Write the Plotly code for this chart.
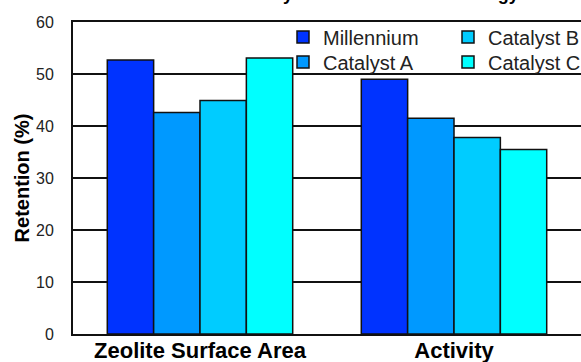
import plotly.graph_objects as go

categories = ["Zeolite Surface Area", "Activity"]
series_names = ["Millennium", "Catalyst A", "Catalyst B", "Catalyst C"]
millennium = [52.7, 49.0]
catalyst_a = [42.6, 41.5]
catalyst_b = [44.9, 37.8]
catalyst_c = [53.1, 35.5]
y_ticks = [0, 10, 20, 30, 40, 50, 60]
title_text = "Steam Stability of Millennium Technology"

colors = ["#0033FF", "#0099FF", "#00CCFF", "#00FFFF"]
values = [millennium, catalyst_a, catalyst_b, catalyst_c]
legend_ids = ["legend", "legend2", "legend3", "legend4"]

fig = go.Figure()
for name, vals, col, lg in zip(series_names, values, colors, legend_ids):
    fig.add_trace(go.Bar(
        x=categories, y=vals, name=name, legend=lg,
        marker=dict(color=col, line=dict(color="#111111", width=1.5)),
    ))

legend_font = dict(family="Liberation Sans, Arial, sans-serif", size=20, color="#222222")
W = 508.0
H = 312.0
L = 73.0
T = 22.0


def leg(text_x, center_y):
    # text_x: pixel x where text should start; center_y: pixel y of row center
    return dict(x=(text_x - 41 - L) / W, xanchor="left",
                y=1 + (T - center_y + 19.5) / H, yanchor="top",
                bgcolor="rgba(0,0,0,0)", borderwidth=0, font=legend_font,
                itemwidth=30)


fig.update_layout(
    width=581, height=362,
    margin=dict(l=73, r=0, t=22, b=28, autoexpand=False),
    paper_bgcolor="white", plot_bgcolor="white",
    barmode="group", bargap=0.27, bargroupgap=0,
    font=dict(family="Liberation Sans, Arial, sans-serif", color="#111111"),
    legend=leg(324, 37),
    legend2=leg(324, 62),
    legend3=leg(489, 37),
    legend4=leg(489, 62),
    showlegend=True,
)
fig.update_xaxes(
    type="category", range=[-0.5, 1.5], automargin=False,
    showline=True, linecolor="#111111", linewidth=2, mirror=True,
    ticks="", showgrid=False,
    tickfont=dict(family="Liberation Sans, Arial, sans-serif", size=22, color="#000000", weight="bold"),
    ticklabelstandoff=-4,
)
fig.update_yaxes(
    range=[0, 60], tickvals=y_ticks, ticktext=[str(v) for v in y_ticks],
    automargin=False,
    showline=True, linecolor="#111111", linewidth=2,
    showgrid=True, gridcolor="#111111", gridwidth=1.5,
    zeroline=False, ticks="",
    tickfont=dict(family="Liberation Sans, Arial, sans-serif", size=16, color="#222222"),
    ticklabelstandoff=14,
    title=dict(text="Retention (%)", standoff=1,
               font=dict(family="Liberation Sans, Arial, sans-serif", size=20, color="#000000", weight="bold")),
)
fig.add_annotation(
    text=title_text, xref="paper", yref="paper", x=(341 - L) / W, y=1 + (T + 6.0) / H,
    xanchor="center", yanchor="middle", showarrow=False,
    font=dict(family="Liberation Sans, Arial, sans-serif", size=18, color="#000000", weight="bold"),
)
fig.write_html("out.html", config={"displayModeBar": False},
               post_script="document.body.style.margin='0px';")
